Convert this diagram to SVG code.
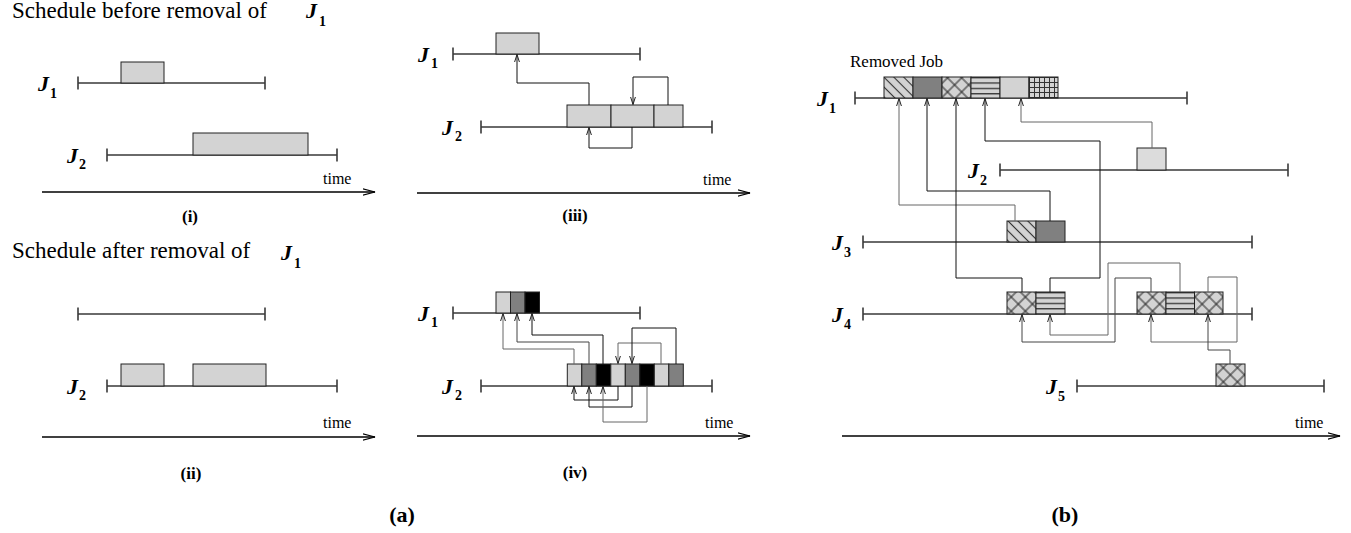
<svg xmlns="http://www.w3.org/2000/svg" width="1351" height="533" viewBox="0 0 1351 533">
<defs>
<style>
text { font-family: "Liberation Serif", "Times New Roman", serif; fill: #000; }
.title { font-size: 23px; }
.jl { font-size: 22px; font-weight: bold; font-style: italic; }
.js { font-size: 14px; font-weight: bold; }
.tl { font-size: 16px; }
.cap { font-size: 17px; font-weight: bold; text-anchor: middle; }
.big { font-size: 22px; font-weight: bold; text-anchor: middle; }
.row { fill: none; stroke: #3a3a3a; stroke-width: 1.6; }
.box { stroke: #222; stroke-width: 1; }
.lg { fill: #d3d3d3; }
.vl { fill: #dcdcdc; }
.mg { fill: #808080; }
.bk { fill: #000; }
.conn { fill: none; stroke: #111; stroke-width: 1; marker-end: url(#ah); }
.c2 { stroke: #444; }
.c3 { stroke: #666; }
.axis { fill: none; stroke: #000; stroke-width: 1.3; marker-end: url(#ax); }
</style>
<marker id="ah" viewBox="0 0 8 6" refX="7.5" refY="3" markerWidth="8" markerHeight="6" markerUnits="userSpaceOnUse" orient="auto">
<path d="M0,0.6 L7.5,3 L0,5.4" fill="none" stroke="#222" stroke-width="1"/>
</marker>
<marker id="ax" viewBox="0 0 13 8" refX="12.5" refY="4" markerWidth="13" markerHeight="8" markerUnits="userSpaceOnUse" orient="auto">
<path d="M0,0.8 L12.5,4 L0,7.2" fill="none" stroke="#000" stroke-width="1.2"/>
</marker>
<pattern id="pDiag" patternUnits="userSpaceOnUse" width="7" height="7" patternTransform="rotate(-45)">
<rect width="7" height="7" fill="#d3d3d3"/>
<line x1="3.5" y1="0" x2="3.5" y2="7" stroke="#333" stroke-width="1.1"/>
</pattern>
<pattern id="pCross" patternUnits="userSpaceOnUse" width="10" height="10" patternTransform="rotate(45)">
<rect width="10" height="10" fill="#d3d3d3"/>
<path d="M5,0 V10 M0,5 H10" stroke="#222" stroke-width="1"/>
</pattern>
<pattern id="pHl" patternUnits="userSpaceOnUse" x="0" y="77" width="20" height="5.375">
<rect width="20" height="5.375" fill="#d3d3d3"/>
<rect width="20" height="1.3" fill="#333"/>
</pattern>
<pattern id="pGrid" patternUnits="userSpaceOnUse" x="1029" y="77" width="5" height="5">
<rect width="5" height="5" fill="#d3d3d3"/>
<path d="M0,0.5 H5 M0.5,0 V5" stroke="#333" stroke-width="1"/>
</pattern>
</defs>
<rect width="1351" height="533" fill="#fff"/>

<!-- (i) schedule before removal -->
<g id="title-before">
<text class="title" x="12" y="18">Schedule before removal of</text>
<text class="jl" x="306" y="18">J</text><text class="js" x="319" y="26">1</text>
</g>
<g id="i-j1">
<path class="row" d="M78,76.5 V89.5 M78,83 H265 M265,76.5 V89.5"/>
<rect class="box lg" x="121" y="62" width="43" height="21"/>
<text class="jl" x="38" y="91">J</text><text class="js" x="50" y="98">1</text>
</g>
<g id="i-j2">
<path class="row" d="M107,148.5 V161.5 M107,155 H337 M337,148.5 V161.5"/>
<rect class="box lg" x="193" y="133" width="115" height="22"/>
<text class="jl" x="67" y="163">J</text><text class="js" x="79" y="169">2</text>
</g>
<g id="i-axis">
<path class="axis" d="M42,192 H375"/>
<text class="tl" x="323" y="184">time</text>
<text class="cap" x="190" y="222">(i)</text>
</g>

<!-- (ii) schedule after removal -->
<g id="title-after">
<text class="title" x="12" y="258">Schedule after removal of</text>
<text class="jl" x="281" y="260">J</text><text class="js" x="294" y="268">1</text>
</g>
<g id="ii-j1">
<path class="row" d="M78,307.5 V320.5 M78,314 H265 M265,307.5 V320.5"/>
</g>
<g id="ii-j2">
<path class="row" d="M107,379.5 V392.5 M107,386 H337 M337,379.5 V392.5"/>
<rect class="box lg" x="121" y="364" width="43" height="22"/>
<rect class="box lg" x="193" y="364" width="73" height="22"/>
<text class="jl" x="67" y="394">J</text><text class="js" x="79" y="400">2</text>
</g>
<g id="ii-axis">
<path class="axis" d="M42,437 H375"/>
<text class="tl" x="323" y="428">time</text>
<text class="cap" x="191" y="479">(ii)</text>
</g>

<!-- (iii) -->
<g id="iii-j1">
<path class="row" d="M453,47.5 V60.5 M453,54 H640 M640,47.5 V60.5"/>
<rect class="box lg" x="496" y="33" width="43" height="21"/>
<text class="jl" x="418" y="62">J</text><text class="js" x="431" y="68">1</text>
</g>
<g id="iii-j2">
<path class="row" d="M481,120.5 V133.5 M481,127 H712 M712,120.5 V133.5"/>
<rect class="box lg" x="567" y="105" width="44" height="22"/>
<rect class="box lg" x="611" y="105" width="43" height="22"/>
<rect class="box lg" x="654" y="105" width="29" height="22"/>
<text class="jl" x="442" y="135">J</text><text class="js" x="455" y="141">2</text>
</g>
<g id="iii-connectors">
<path class="conn" d="M589,105 V83 H517 V54.5"/>
<path class="conn" d="M668,105 V77 H633 V104.5"/>
<path class="conn" d="M632,127 V148 H589 V127.5"/>
</g>
<g id="iii-axis">
<path class="axis" d="M417,193 H750"/>
<text class="tl" x="703" y="185">time</text>
<text class="cap" x="575" y="221">(iii)</text>
</g>

<!-- (iv) -->
<g id="iv-j1">
<path class="row" d="M453,306.5 V319.5 M453,313 H640 M640,306.5 V319.5"/>
<rect class="box lg" x="496" y="292" width="14.5" height="21"/>
<rect class="box mg" x="510.5" y="292" width="14.5" height="21"/>
<rect class="box bk" x="525" y="292" width="14.5" height="21"/>
<text class="jl" x="418" y="321">J</text><text class="js" x="431" y="327">1</text>
</g>
<g id="iv-j2">
<path class="row" d="M481,379.5 V392.5 M481,386 H712 M712,379.5 V392.5"/>
<rect class="box lg" x="567.3" y="364" width="14.5" height="22"/>
<rect class="box mg" x="581.8" y="364" width="14.5" height="22"/>
<rect class="box bk" x="596.3" y="364" width="14.5" height="22"/>
<rect class="box lg" x="610.8" y="364" width="14.5" height="22"/>
<rect class="box mg" x="625.3" y="364" width="14.5" height="22"/>
<rect class="box bk" x="639.8" y="364" width="14.5" height="22"/>
<rect class="box lg" x="654.3" y="364" width="14.5" height="22"/>
<rect class="box mg" x="668.8" y="364" width="14.5" height="22"/>
<text class="jl" x="442" y="394">J</text><text class="js" x="455" y="400">2</text>
</g>
<g id="iv-connectors">
<path class="conn c3" d="M574,364 V349 H503 V313.5"/>
<path class="conn c2" d="M589,364 V342 H517 V313.5"/>
<path class="conn" d="M603,364 V335 H532 V313.5"/>
<path class="conn c3" d="M661,364 V343 H618 V363.5"/>
<path class="conn" d="M676,364 V328 H632 V363.5"/>
<path class="conn" d="M618,386 V400 H574 V386.5"/>
<path class="conn" d="M632,386 V407 H589 V386.5"/>
<path class="conn c3" d="M647,386 V422 H603 V386.5"/>
</g>
<g id="iv-axis">
<path class="axis" d="M417,436 H750"/>
<text class="tl" x="705" y="428">time</text>
<text class="cap" x="575" y="478">(iv)</text>
</g>
<text class="big" x="402" y="522">(a)</text>

<!-- (b) removed job redistributed over J2..J5 -->
<text x="850" y="67" style="font-size:17px">Removed Job</text>
<g id="b-j1">
<path class="row" d="M855,91.5 V104.5 M855,98 H1187 M1187,91.5 V104.5"/>
<rect class="box" fill="url(#pDiag)" x="884" y="77" width="29" height="21"/>
<rect class="box mg" x="913" y="77" width="29" height="21"/>
<rect class="box" fill="url(#pCross)" x="942" y="77" width="29" height="21"/>
<rect class="box" fill="url(#pHl)" x="971" y="77" width="29" height="21"/>
<rect class="box lg" x="1000" y="77" width="29" height="21"/>
<rect class="box" fill="url(#pGrid)" x="1029" y="77" width="29" height="21"/>
<text class="jl" x="817" y="106">J</text><text class="js" x="829" y="113">1</text>
</g>
<g id="b-j2">
<path class="row" d="M1000,163.5 V176.5 M1000,170 H1288 M1288,163.5 V176.5"/>
<rect class="box vl" x="1137" y="148" width="29" height="22"/>
<text class="jl" x="968" y="178">J</text><text class="js" x="980" y="185">2</text>
</g>
<g id="b-j3">
<path class="row" d="M863,235.5 V248.5 M863,242 H1252 M1252,235.5 V248.5"/>
<rect class="box" fill="url(#pDiag)" x="1007" y="221" width="29" height="21"/>
<rect class="box mg" x="1036" y="221" width="29" height="21"/>
<text class="jl" x="832" y="250">J</text><text class="js" x="844" y="257">3</text>
</g>
<g id="b-j4">
<path class="row" d="M863,307.5 V320.5 M863,314 H1252 M1252,307.5 V320.5"/>
<rect class="box" fill="url(#pCross)" x="1007" y="292" width="29" height="22"/>
<rect class="box" fill="url(#pHl)" x="1036" y="292" width="29" height="22"/>
<rect class="box" fill="url(#pCross)" x="1137" y="292" width="29" height="22"/>
<rect class="box" fill="url(#pHl)" x="1166" y="292" width="28.5" height="22"/>
<rect class="box" fill="url(#pCross)" x="1194.5" y="292" width="28.5" height="22"/>
<text class="jl" x="832" y="322">J</text><text class="js" x="844" y="329">4</text>
</g>
<g id="b-j5">
<path class="row" d="M1077,379.5 V392.5 M1077,386 H1324 M1324,379.5 V392.5"/>
<rect class="box" fill="url(#pCross)" x="1216" y="364" width="29" height="22"/>
<text class="jl" x="1046" y="394">J</text><text class="js" x="1058" y="401">5</text>
</g>
<g id="b-connectors">
<path class="conn c3" d="M1152,148 V122 H1021 V98.5"/>
<path class="conn c3" d="M1015,221 V205 H899 V98.5"/>
<path class="conn" d="M1050,221 V191 H927 V98.5"/>
<path class="conn" d="M1022,292 V278 H956 V98.5"/>
<path class="conn" d="M1050,292 V278 H1100 V141 H985 V98.5"/>
<path class="conn c2" d="M1151,292 V278 H1115 V342 H1022 V314.5"/>
<path class="conn c3" d="M1180,292 V263 H1108 V335 H1050 V314.5"/>
<path class="conn c3" d="M1208,292 V277 H1237 V342 H1151 V314.5"/>
<path class="conn c2" d="M1230,364 V350 H1208 V314.5"/>
</g>
<g id="b-axis">
<path class="axis" d="M842,436 H1340"/>
<text class="tl" x="1295" y="428">time</text>
</g>
<text class="big" x="1065" y="522">(b)</text>
</svg>
